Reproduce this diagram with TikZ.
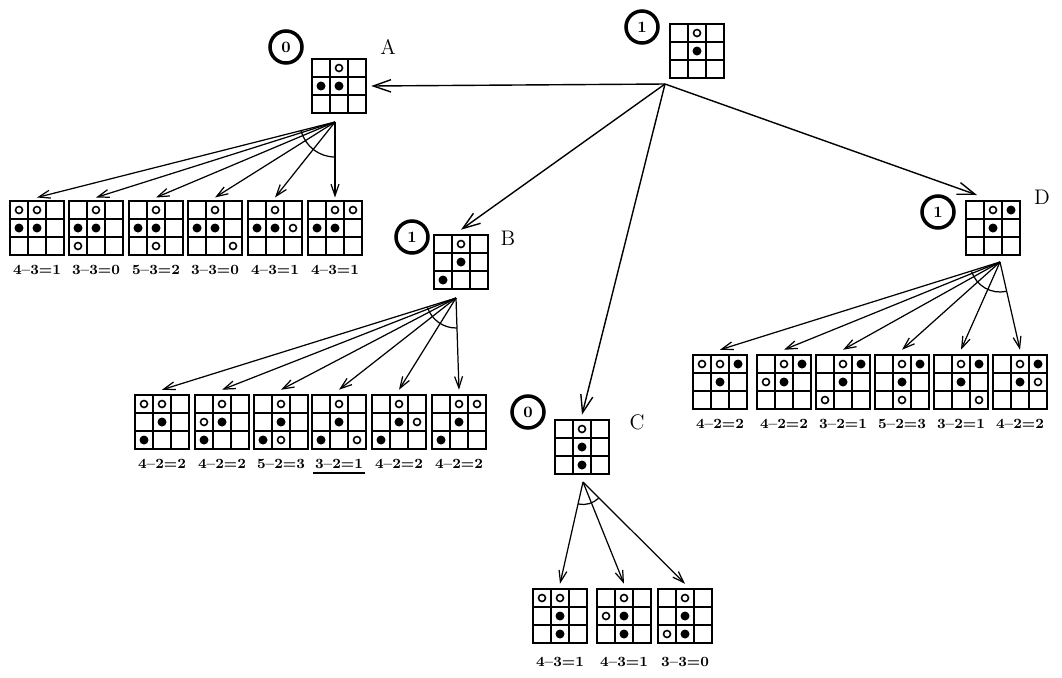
\documentclass[tikz,border=0pt]{standalone}
\usepackage{amsmath}
\usepackage{tikz}
\usetikzlibrary{positioning,calc,arrows.meta}

% one 3x3 board: name, centre, cells with O, cells with X (column/row)
\newcommand{\ttt}[4]{%
	\node[board] (#1) at (#2) {};
	\foreach \c/\r in {#3} \draw[omark] ($(#1.north west)+(\c*18-9,\r*18-9)$) circle[radius=0.07cm];
	\foreach \c/\r in {#4} \fill ($(#1.north west)+(\c*18-9,\r*18-9)$) circle[radius=0.09cm];
}

% arc across a fan of moves: apex, first child, last child, radius
\newcommand{\fanarc}[4]{%
	\draw[line width=0.7pt] let \p1=($(#2.north)-(#1)$), \p2=($(#3.north)-(#1)$),
		\n1={atan2(\y1,\x1)}, \n2={atan2(\y2,\x2)} in
		($(#1)+(\n1:#4)$) arc[start angle=\n1, end angle=\n2, radius=#4];
}

\begin{document}
\begin{tikzpicture}[x=0.02cm, y=-0.02cm,
	board/.style={draw, line width=1.3pt, outer sep=0pt, inner sep=0pt, minimum size=1.08cm,
		path picture={
			\foreach \i in {1,2} {
				\draw[line width=1pt] ([xshift=\i*0.36cm]path picture bounding box.north west) -- ([xshift=\i*0.36cm]path picture bounding box.south west);
				\draw[line width=1pt] ([yshift=-\i*0.36cm]path picture bounding box.north west) -- ([yshift=-\i*0.36cm]path picture bounding box.north east);
			}}},
	omark/.style={line width=0.9pt},
	numcirc/.style={draw, circle, line width=2pt, minimum size=0.64cm, inner sep=0pt, font=\bfseries\small},
	lbl/.style={font=\bfseries\footnotesize, inner sep=1pt},
	tag/.style={font=\large},
	main/.style={line width=0.8pt, -{Straight Barb[length=10pt,width=7pt]}},
	fan/.style={line width=0.7pt, -{Straight Barb[length=6.5pt,width=4.5pt]}}]
	\useasboundingbox (0,0) rectangle (1062,677);

	% top of the tree
	\ttt{root}{697,51}{2/1}{2/2}
	\node[numcirc] (nroot) at (642,27) {1};

	\ttt{A}{339,86}{2/1}{1/2,2/2}
	\node[numcirc] (nA) at (286,47) {0};
	\node[tag] (tA) at (388,47) {A};

	\ttt{B}{461,262}{2/1}{2/2,1/3}
	\node[numcirc] (nB) at (412,237) {1};
	\node[tag] (tB) at (508,238) {B};

	\ttt{C}{582,447}{2/1}{2/2,2/3}
	\node[numcirc] (nC) at (528,412) {0};
	\node[tag] (tC) at (637,422) {C};

	\ttt{D}{993,228}{2/1}{3/1,2/2}
	\node[numcirc] (nD) at (938,212) {1};
	\node[tag] (tD) at (1042,197) {D};

	% leaves under A
	\ttt{a1}{37,228}{1/1,2/1}{1/2,2/2}
	\ttt{a2}{96,228}{2/1,1/3}{1/2,2/2}
	\ttt{a3}{156,228}{2/1,2/3}{1/2,2/2}
	\ttt{a4}{215,228}{2/1,3/3}{1/2,2/2}
	\ttt{a5}{275,228}{2/1,3/2}{1/2,2/2}
	\ttt{a6}{335,228}{2/1,3/1}{1/2,2/2}
	\node[lbl, below=0.17cm of a1] (la1) {4--3=1};
	\node[lbl, below=0.17cm of a2] (la2) {3--3=0};
	\node[lbl, below=0.17cm of a3] (la3) {5--3=2};
	\node[lbl, below=0.17cm of a4] (la4) {3--3=0};
	\node[lbl, below=0.17cm of a5] (la5) {4--3=1};
	\node[lbl, below=0.17cm of a6] (la6) {4--3=1};

	% leaves under B
	\ttt{b1}{162,422}{1/1,2/1}{2/2,1/3}
	\ttt{b2}{222,422}{2/1,1/2}{2/2,1/3}
	\ttt{b3}{281,422}{2/1,2/3}{2/2,1/3}
	\ttt{b4}{339,422}{2/1,3/3}{2/2,1/3}
	\ttt{b5}{399,422}{2/1,3/2}{2/2,1/3}
	\ttt{b6}{459,422}{2/1,3/1}{2/2,1/3}
	\node[lbl, below=0.17cm of b1] (lb1) {4--2=2};
	\node[lbl, below=0.17cm of b2] (lb2) {4--2=2};
	\node[lbl, below=0.17cm of b3] (lb3) {5--2=3};
	\node[lbl, below=0.17cm of b4] (lb4) {3--2=1};
	\node[lbl, below=0.17cm of b5] (lb5) {4--2=2};
	\node[lbl, below=0.17cm of b6] (lb6) {4--2=2};
	\draw[line width=1.3pt] ([yshift=-1pt]lb4.south west) -- ([yshift=-1pt]lb4.south east);

	% leaves under D
	\ttt{d1}{720,382}{1/1,2/1}{3/1,2/2}
	\ttt{d2}{784,382}{2/1,1/2}{3/1,2/2}
	\ttt{d3}{843,382}{2/1,1/3}{3/1,2/2}
	\ttt{d4}{902,382}{2/1,2/3}{3/1,2/2}
	\ttt{d5}{961,382}{2/1,3/3}{3/1,2/2}
	\ttt{d6}{1020,382}{2/1,3/2}{3/1,2/2}
	\node[lbl, below=0.17cm of d1] (ld1) {4--2=2};
	\node[lbl, below=0.17cm of d2] (ld2) {4--2=2};
	\node[lbl, below=0.17cm of d3] (ld3) {3--2=1};
	\node[lbl, below=0.17cm of d4] (ld4) {5--2=3};
	\node[lbl, below=0.17cm of d5] (ld5) {3--2=1};
	\node[lbl, below=0.17cm of d6] (ld6) {4--2=2};

	% leaves under C
	\ttt{c1}{560,616}{1/1,2/1}{2/2,2/3}
	\ttt{c2}{624,616}{2/1,1/2}{2/2,2/3}
	\ttt{c3}{685,616}{2/1,1/3}{2/2,2/3}
	\node[lbl, below=0.25cm of c1] (lc1) {4--3=1};
	\node[lbl, below=0.25cm of c2] (lc2) {4--3=1};
	\node[lbl, below=0.25cm of c3] (lc3) {3--3=0};

	% arrows
	\coordinate (rootfan) at (665,84);
	\coordinate (Afan) at (335,122);
	\coordinate (Bfan) at (456,298);
	\coordinate (Cfan) at (583,482);
	\coordinate (Dfan) at (1000,262);

	\draw[main] (rootfan) -- ([xshift=3pt]A.east);
	\draw[main] (rootfan) -- ([yshift=3pt]B.north);
	\draw[main] (rootfan) -- ([yshift=3pt]C.north);
	\draw[main] (rootfan) -- ($(D.north west)+(11,-6)$);

	\foreach \n in {a1,a2,a3,a4,a5,a6}
		\draw[fan] (Afan) -- ([yshift=2pt]\n.north);
	\foreach \n in {b1,b2,b3,b4,b5,b6}
		\draw[fan] (Bfan) -- ([yshift=3pt]\n.north);
	\foreach \n in {d1,d2,d3,d4,d5,d6}
		\draw[fan] (Dfan) -- ([yshift=3pt]\n.north);
	\foreach \n in {c1,c2,c3}
		\draw[fan] (Cfan) -- ([yshift=3pt]\n.north);

	% arcs over the moves out of each MIN board
	\fanarc{Afan}{a1}{a6}{0.7cm}
	\fanarc{Bfan}{b1}{b6}{0.6cm}
	\fanarc{Cfan}{c1}{c3}{0.45cm}
	\fanarc{Dfan}{d1}{d6}{0.6cm}
\end{tikzpicture}
\end{document}
